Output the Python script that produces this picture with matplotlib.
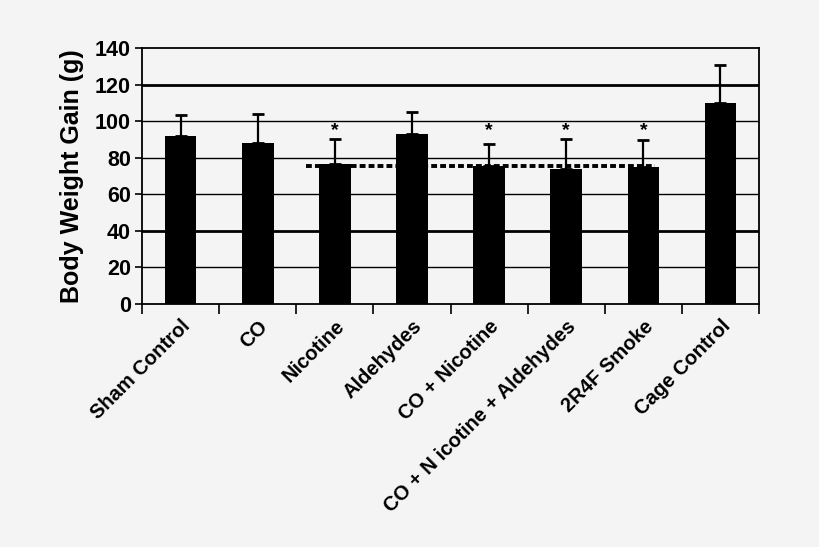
import numpy as np
import matplotlib
matplotlib.use('Agg')
import matplotlib.pyplot as plt

# group names as printed on the x axis (the odd space is in the original)
groups = ['Sham Control', 'CO', 'Nicotine', 'Aldehydes', 'CO + Nicotine',
          'CO + N icotine + Aldehydes', '2R4F Smoke', 'Cage Control']
gain = [92, 88, 76.5, 93, 75.5, 74, 75, 110]
err_up = [11.5, 16, 14, 12, 12, 16, 14.5, 20.5]
signif = [False, False, True, False, True, True, True, False]
ref_level = 75.6
ref_span = [1.62, 6.15]
yticks = [0, 20, 40, 60, 80, 100, 120, 140]

plt.rcParams['font.family'] = ['Liberation Sans', 'DejaVu Sans']
plt.rcParams['font.weight'] = 'bold'

bg = '#f4f4f4'
fig = plt.figure(figsize=(8.2, 5.47), dpi=100, facecolor=bg)
ax = fig.add_axes([0.1732, 0.4442, 0.7524, 0.468], facecolor=bg)

x = np.arange(len(groups))
ax.bar(x, gain, width=0.41, color='black', zorder=3)
ax.errorbar(x, gain, yerr=[np.zeros(len(gain)), err_up], fmt='none',
            ecolor='black', elinewidth=1.6, capsize=4, capthick=2, zorder=4)

ax.plot(ref_span, [ref_level, ref_level], color='black', lw=2.8,
        linestyle=(0, (1.5, 0.8)), solid_capstyle='butt', zorder=5)

for i, s in enumerate(signif):
    if s:
        ax.text(i, 95.0, '*', ha='center', va='center', fontsize=14,
                fontweight='bold', zorder=6)

# horizontal grid, the 40 and 120 lines come out heavier in the original
for v in yticks[1:-1]:
    lw = 2.0 if v in (40, 120) else 1.0
    ax.axhline(v, color='black', lw=lw, zorder=1)

ax.set_xlim(-0.5, len(groups) - 0.5)
ax.set_ylim(0, 140)
ax.set_yticks(yticks)
ax.set_yticklabels([str(v) for v in yticks], fontsize=15.5, fontweight='bold')
ax.tick_params(axis='y', length=5, width=1.2, pad=3)

ax.set_xticks(np.arange(len(groups) + 1) - 0.5)
ax.set_xticklabels([])
ax.set_xticks(x, minor=True)
ax.set_xticklabels(groups, minor=True, rotation=45, ha='right',
                   rotation_mode='anchor', fontsize=14.5, fontweight='bold')
ax.tick_params(axis='x', which='major', length=7, width=1.2)
ax.tick_params(axis='x', which='minor', length=0, pad=9)

for sp in ax.spines.values():
    sp.set_linewidth(1.3)
    sp.set_color('black')

ax.set_ylabel('Body Weight Gain (g)', fontsize=18, fontweight='bold',
              labelpad=8)

plt.savefig('out.png', dpi=100, facecolor=bg)
